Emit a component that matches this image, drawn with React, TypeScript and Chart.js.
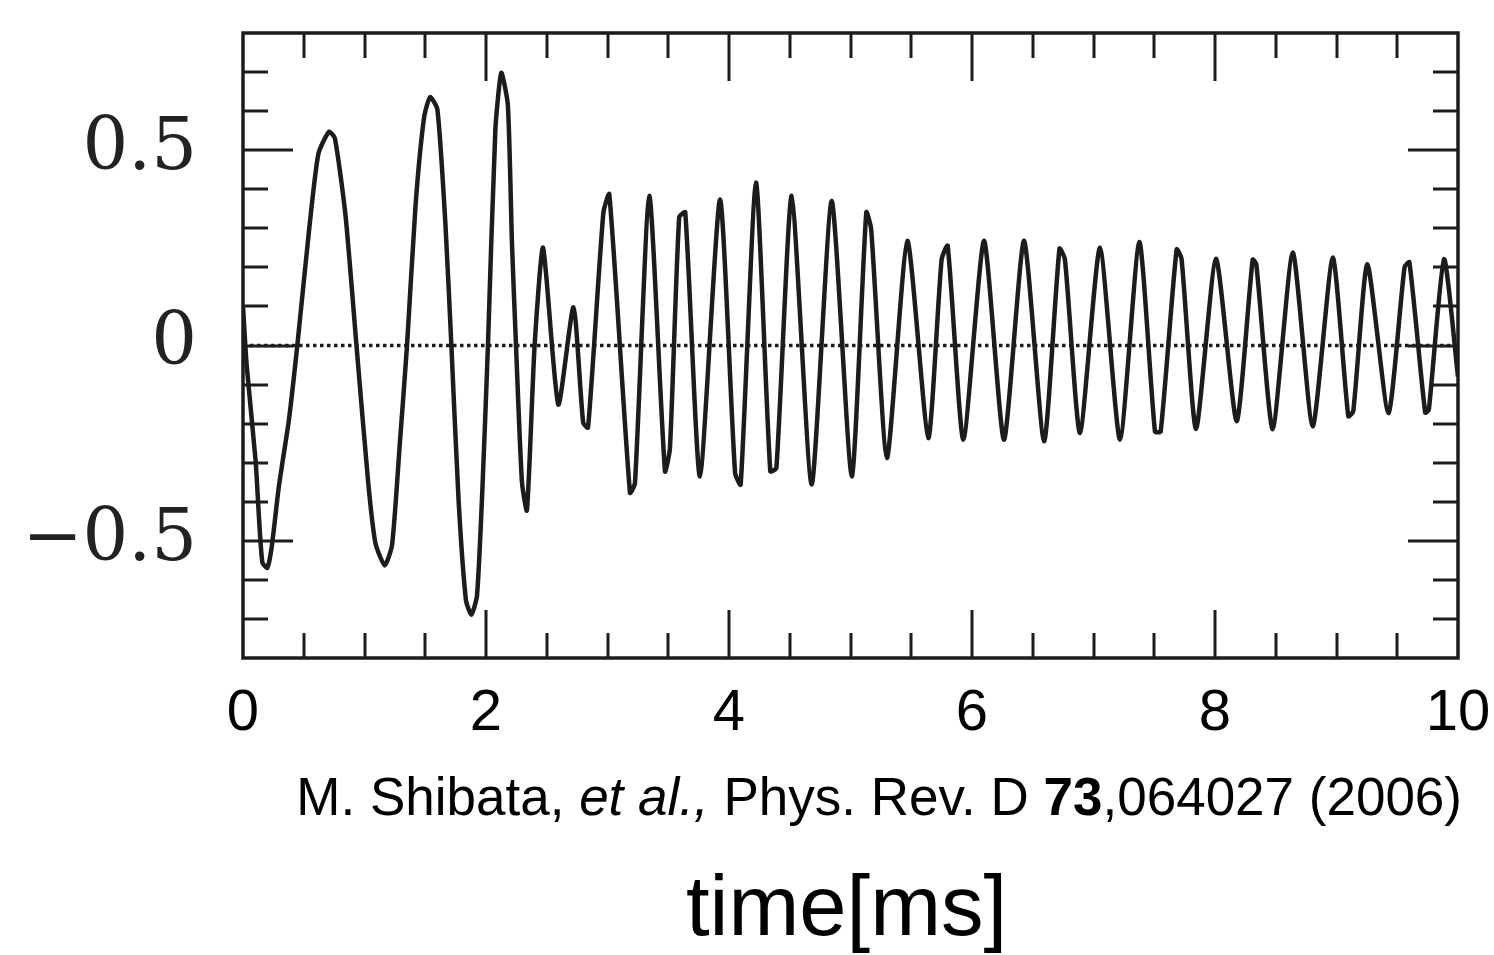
import React, { useEffect, useRef } from "react";
import { Chart, registerables } from "chart.js";

Chart.register(...registerables);

// time [ms]
const times = [
  0.0, 0.03, 0.104, 0.132, 0.16, 0.2, 0.236, 0.296, 0.378, 0.447, 0.542, 0.62, 0.707, 0.756, 0.844, 0.934,
  1.03, 1.09, 1.167, 1.227, 1.29, 1.35, 1.42, 1.49, 1.54, 1.6, 1.666, 1.715, 1.775, 1.835, 1.88, 1.926, 1.97,
  2.016, 2.077, 2.126, 2.18, 2.214, 2.247, 2.296, 2.337, 2.4, 2.47, 2.595, 2.72, 2.8, 2.84, 2.966, 3.015,
  3.185, 3.226, 3.344, 3.473, 3.514, 3.59, 3.64, 3.761, 3.926, 4.05, 4.096, 4.222, 4.34, 4.39, 4.516, 4.68,
  4.845, 5.01, 5.13, 5.17, 5.3, 5.468, 5.64, 5.75, 5.8, 5.929, 6.099, 6.263, 6.428, 6.593, 6.72, 6.765,
  6.889, 7.053, 7.218, 7.377, 7.506, 7.553, 7.684, 7.725, 7.844, 8.008, 8.178, 8.31, 8.34, 8.475, 8.64,
  8.804, 8.969, 9.097, 9.138, 9.254, 9.427, 9.56, 9.6, 9.73, 9.76, 9.885, 10.0,
];

// waveform amplitude
const strain = [
  0.1, -0.05, -0.296, -0.443, -0.556, -0.569, -0.516, -0.359, -0.19, 0.0, 0.29, 0.49, 0.547, 0.531, 0.332, 0.0,
  -0.349, -0.506, -0.563, -0.51, -0.254, 0.0, 0.358, 0.583, 0.636, 0.604, 0.311, 0.0, -0.4, -0.652, -0.689, -0.64, -0.37,
  0.0, 0.552, 0.698, 0.615, 0.259, 0.0, -0.35, -0.422, 0.0, 0.25, -0.151, 0.098, -0.198, -0.21, 0.34, 0.387,
  -0.377, -0.352, 0.383, -0.322, -0.262, 0.328, 0.341, -0.335, 0.374, -0.326, -0.356, 0.417, -0.322, -0.313, 0.383, -0.356,
  0.37, -0.335, 0.341, 0.298, -0.288, 0.268, -0.237, 0.22, 0.255, -0.241, 0.268, -0.241, 0.268, -0.245, 0.248, 0.22,
  -0.224, 0.25, -0.241, 0.265, -0.22, -0.22, 0.246, 0.221, -0.214, 0.222, -0.194, 0.22, 0.208, -0.214, 0.238,
  -0.207, 0.225, -0.181, -0.168, 0.208, -0.173, 0.2, 0.213, -0.172, -0.164, 0.221, -0.08,
];

const xRange = [0, 10];
const yRange = [-0.8, 0.8];
const xTickStep = 0.5;
const yTickStep = 0.1;
const xTickLabels = [0, 2, 4, 6, 8, 10];
const yTickLabels = [-0.5, 0, 0.5];
const zeroLine = [0, 10];

const xAxisTitle = "time[ms]";
const captionRuns = [
  { text: "M. Shibata, ", style: "" },
  { text: "et al.,", style: "italic " },
  { text: " Phys. Rev. D ", style: "" },
  { text: "73", style: "bold " },
  { text: ",064027 (2006)", style: "" },
];

const INK = "#1c1c1c";
const SANS = '"Liberation Sans", Arial, sans-serif';
const SERIF = '"DejaVu Serif", "Liberation Serif", serif';

const near = (v: number, list: number[]) => list.some((l) => Math.abs(l - v) < 1e-6);

const framePlugin = {
  id: "frameTicks",
  afterDraw(chart: any) {
    const { ctx, chartArea: a, scales } = chart;
    const xs = scales.x;
    const ys = scales.y;
    ctx.save();
    ctx.strokeStyle = INK;
    ctx.lineCap = "butt";
    // ticks
    ctx.lineWidth = 3;
    xs.ticks.forEach((t: any) => {
      const v = t.value;
      if (Math.abs(v - xRange[0]) < 1e-6 || Math.abs(v - xRange[1]) < 1e-6) return;
      const len = near(v, xTickLabels) ? 48 : 25;
      const px = Math.round(xs.getPixelForValue(v));
      ctx.beginPath();
      ctx.moveTo(px, a.bottom);
      ctx.lineTo(px, a.bottom - len);
      ctx.moveTo(px, a.top);
      ctx.lineTo(px, a.top + len);
      ctx.stroke();
    });
    ys.ticks.forEach((t: any) => {
      const v = t.value;
      if (Math.abs(v - yRange[0]) < 1e-6 || Math.abs(v - yRange[1]) < 1e-6) return;
      const len = near(v, yTickLabels) ? 50 : 25;
      const py = Math.round(ys.getPixelForValue(v));
      ctx.beginPath();
      ctx.moveTo(a.left, py);
      ctx.lineTo(a.left + len, py);
      ctx.moveTo(a.right, py);
      ctx.lineTo(a.right - len, py);
      ctx.stroke();
    });
    // frame
    ctx.lineWidth = 3.5;
    ctx.strokeRect(a.left, a.top, a.right - a.left, a.bottom - a.top);

    // caption (mixed styles)
    ctx.fillStyle = "#000";
    ctx.textBaseline = "alphabetic";
    ctx.textAlign = "left";
    const size = 53;
    let total = 0;
    captionRuns.forEach((r) => {
      ctx.font = `${r.style}${size}px ${SANS}`;
      total += ctx.measureText(r.text).width;
    });
    let cx = a.right + 4 - total;
    const cy = a.bottom + 157;
    captionRuns.forEach((r) => {
      ctx.font = `${r.style}${size}px ${SANS}`;
      ctx.fillText(r.text, cx, cy);
      cx += ctx.measureText(r.text).width;
    });

    // axis title
    ctx.font = `85px ${SANS}`;
    ctx.textAlign = "center";
    ctx.fillText(xAxisTitle, (a.left + a.right) / 2 - 4, a.bottom + 277);
    ctx.restore();
  },
};

export default function App() {
  const ref = useRef<HTMLCanvasElement | null>(null);
  useEffect(() => {
    if (!ref.current) return;
    const chart = new Chart(ref.current, {
      type: "line",
      data: {
        datasets: [
          {
            data: times.map((t, i) => ({ x: t, y: strain[i] })),
            borderColor: INK,
            borderWidth: 4.5,
            pointRadius: 0,
            tension: 0.2,
            fill: false,
          },
          {
            data: zeroLine.map((t) => ({ x: t, y: 0 })),
            borderColor: INK,
            borderWidth: 3.5,
            borderDash: [3.5, 3.5],
            pointRadius: 0,
            tension: 0,
            fill: false,
          },
        ],
      },
      options: {
        responsive: false,
        animation: false,
        layout: { padding: { top: 33, right: 36, left: 0, bottom: 0 } },
        plugins: { legend: { display: false }, tooltip: { enabled: false }, title: { display: false } },
        scales: {
          x: {
            type: "linear",
            min: xRange[0],
            max: xRange[1],
            grid: { display: false, drawTicks: false },
            border: { display: false },
            afterFit: (s: any) => {
              s.height = 297;
              s.paddingLeft = 0;
              s.paddingRight = 0;
            },
            ticks: {
              stepSize: xTickStep,
              autoSkip: false,
              maxRotation: 0,
              padding: 21,
              color: "#000",
              font: { family: SANS, size: 58 },
              callback: (v: any) => (near(Number(v), xTickLabels) ? String(Math.round(Number(v))) : ""),
            },
          },
          y: {
            type: "linear",
            min: yRange[0],
            max: yRange[1],
            grid: { display: false, drawTicks: false },
            border: { display: false },
            afterFit: (s: any) => {
              s.width = 243;
              s.paddingTop = 0;
              s.paddingBottom = 0;
            },
            ticks: {
              stepSize: yTickStep,
              autoSkip: false,
              padding: 46,
              color: "#222",
              font: { family: SERIF, size: 72 },
              callback: (v: any) => {
                const n = Number(v);
                if (!near(n, yTickLabels)) return "";
                if (Math.abs(n) < 1e-6) return "0";
                return n < 0 ? "\u2212" + Math.abs(n).toFixed(1) : n.toFixed(1);
              },
            },
          },
        },
      },
      plugins: [framePlugin],
    });
    return () => chart.destroy();
  }, []);
  return (
    <div style={{ position: "fixed", left: 0, top: 0, width: 1494, height: 955, background: "#fff" }}>
      <canvas ref={ref} width={1494} height={955} />
    </div>
  );
}
